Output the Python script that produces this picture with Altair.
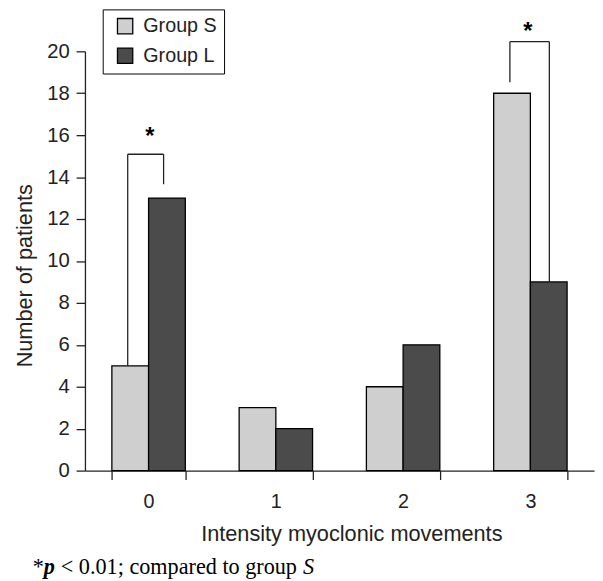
import altair as alt
import pandas as pd

FONT = "Liberation Sans"
SERIF = "Liberation Serif"

# ---- data ----
categories = ["0", "1", "2", "3"]
groups = ["Group S", "Group L"]
group_s = [5, 3, 4, 18]
group_l = [13, 2, 6, 9]

# significance brackets (x in category units on a 0..4 scale, y in patients)
bracket_left_x = [0.336, 3.339]
bracket_right_x = [0.618, 3.649]
bracket_top = [15.09, 20.46]
bracket_left_bottom = [5, 18.53]
bracket_right_bottom = [13.66, 9]
star_x = [0.51, 3.48]
star_y = [15.59, 20.61]

rows = []
for i, c in enumerate(categories):
    rows.append({"cat": c, "group": groups[0], "value": group_s[i]})
    rows.append({"cat": c, "group": groups[1], "value": group_l[i]})
bars_df = pd.DataFrame(rows)

legs = []
for i in range(len(bracket_top)):
    legs.append({"x": bracket_left_x[i], "y1": bracket_left_bottom[i], "y2": bracket_top[i]})
    legs.append({"x": bracket_right_x[i], "y1": bracket_right_bottom[i], "y2": bracket_top[i]})
legs_df = pd.DataFrame(legs)
tops_df = pd.DataFrame({"xa": bracket_left_x, "xb": bracket_right_x, "y": bracket_top})
stars_df = pd.DataFrame({"x": star_x, "y": star_y, "t": ["*", "*"]})

ink = "#222222"
yscale = alt.Scale(domain=[0, 20], nice=False)
qx = alt.Scale(domain=[0, 4], nice=False, zero=False)

bars = alt.Chart(bars_df).mark_bar(stroke="black", strokeWidth=1.3).encode(
    x=alt.X(
        "cat:N",
        sort=categories,
        scale=alt.Scale(paddingInner=0.423, paddingOuter=0.2115),
        axis=alt.Axis(
            title="Intensity myoclonic movements",
            labelAngle=0,
            tickBand="extent",
            tickSize=9,
            tickWidth=1.3,
            tickColor=ink,
            domainColor=ink,
            domainWidth=1.3,
            labelPadding=12,
            labelFont=FONT,
            labelFontSize=20,
            labelColor=ink,
            titleFont=FONT,
            titleFontSize=22,
            titleFontWeight="normal",
            titleColor=ink,
            titleX=270,
            titleY=71,
            titleAlign="center",
            titleBaseline="alphabetic",
        ),
    ),
    xOffset=alt.XOffset("group:N", sort=groups),
    y=alt.Y(
        "value:Q",
        scale=yscale,
        axis=alt.Axis(
            title="Number of patients",
            values=list(range(0, 21, 2)),
            grid=False,
            tickSize=9,
            tickWidth=1.3,
            tickColor=ink,
            domainColor=ink,
            domainWidth=1.3,
            labelPadding=7,
            labelFont=FONT,
            labelFontSize=20.5,
            labelColor=ink,
            titleFont=FONT,
            titleFontSize=22,
            titleFontWeight="normal",
            titleColor=ink,
            titleAngle=270,
            titleX=-61,
            titleY=227,
            titleAlign="center",
            titleBaseline="middle",
        ),
    ),
    color=alt.Color(
        "group:N",
        sort=groups,
        title=None,
        scale=alt.Scale(domain=groups, range=["#cfcfcf", "#4b4b4b"]),
        legend=alt.Legend(
            orient="none",
            legendX=18,
            legendY=-42.5,
            direction="vertical",
            symbolType="square",
            symbolSize=240,
            symbolStrokeColor="black",
            symbolStrokeWidth=1.3,
            symbolOpacity=1,
            symbolOffset=5.7,
            labelFont=FONT,
            labelFontSize=20,
            labelColor=ink,
            labelOffset=8.4,
            rowPadding=8,
            padding=7,
            strokeColor="black",
            fillColor="white",
        ),
    ),
)

leg_rules = alt.Chart(legs_df).mark_rule(color=ink, strokeWidth=1.3).encode(
    x=alt.X("x:Q", scale=qx, axis=None),
    y=alt.Y("y1:Q", scale=yscale),
    y2="y2:Q",
)
top_rules = alt.Chart(tops_df).mark_rule(color=ink, strokeWidth=1.3).encode(
    x=alt.X("xa:Q", scale=qx, axis=None),
    x2="xb:Q",
    y=alt.Y("y:Q", scale=yscale),
)
stars = alt.Chart(stars_df).mark_text(
    font=FONT, fontSize=24, fontWeight="bold", color="black", baseline="alphabetic", align="center"
).encode(
    x=alt.X("x:Q", scale=qx, axis=None),
    y=alt.Y("y:Q", scale=yscale),
    text="t:N",
)

one = pd.DataFrame({"k": [0]})
FN_Y = 530
FN_SIZE = 22.5
seg1 = alt.Chart(one).mark_text(text="*", font=SERIF, fontSize=FN_SIZE, align="left",
                                baseline="alphabetic", color="black").encode(
    x=alt.value(-53), y=alt.value(FN_Y))
seg2 = alt.Chart(one).mark_text(text="p", font=SERIF, fontSize=FN_SIZE, fontWeight="bold",
                                fontStyle="italic", align="left", baseline="alphabetic",
                                color="black").encode(x=alt.value(-41.8), y=alt.value(FN_Y))
seg3 = alt.Chart(one).mark_text(text="< 0.01; compared to group", font=SERIF, fontSize=FN_SIZE,
                                align="left", baseline="alphabetic", color="black").encode(
    x=alt.value(-24.5), y=alt.value(FN_Y))
seg4 = alt.Chart(one).mark_text(text="S", font=SERIF, fontSize=FN_SIZE, fontStyle="italic",
                                align="left", baseline="alphabetic", color="black").encode(
    x=alt.value(221), y=alt.value(FN_Y))

chart = (
    alt.layer(bars, leg_rules, top_rules, stars, seg1, seg2, seg3, seg4)
    .resolve_scale(x="independent")
    .properties(
        width=516,
        height=425,
        autosize=alt.AutoSizeParams(type="none"),
        padding={"left": 78, "top": 40, "right": 1, "bottom": 108},
        background="white",
    )
    .configure_view(strokeWidth=0)
)

chart.save("out.html", embed_options={"renderer": "svg", "actions": False})
